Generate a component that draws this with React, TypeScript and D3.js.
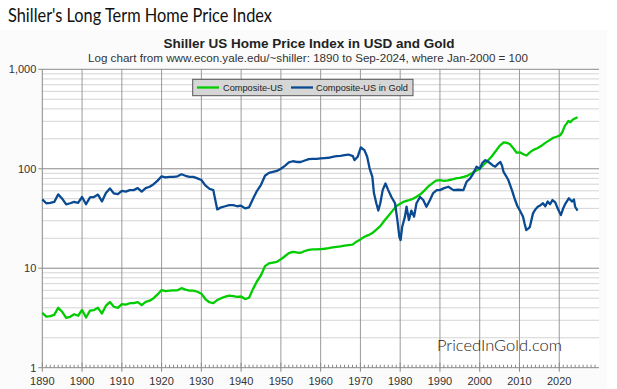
import React from "react";
import * as d3 from "d3";

const usYears = [1890,1891,1892,1893,1894,1895,1896,1897,1898,1899,1900,1901,1902,1903,1904,1905,1906,1907,1908,1909,1910,1911,1912,1913,1914,1915,1916,1917,1918,1919,1920,1921,1922,1923,1924,1925,1926,1927,1928,1929,1930,1931,1932,1933,1934,1935,1936,1937,1938,1939,1940,1941,1942,1943,1944,1945,1946,1947,1948,1949,1950,1951,1952,1953,1954,1955,1956,1957,1958,1959,1960,1961,1962,1963,1964,1965,1966,1967,1968,1969,1970,1971,1972,1973,1974,1975,1976,1977,1978,1979,1980,1981,1982,1983,1984,1985,1986,1987,1988,1989,1990,1991,1992,1993,1994,1995,1996,1997,1998,1999,2000,2001,2002,2003,2004,2005,2006,2006.6,2007.5,2008.5,2009.3,2010.2,2011,2011.8,2012.6,2013.5,2014.5,2015.5,2016.5,2017.5,2018.5,2019.5,2020.3,2020.8,2021.4,2021.9,2022.3,2022.8,2023.3,2023.8,2024.6];
const usValues = [3.57,3.26,3.3,3.4,4.0,3.65,3.17,3.25,3.45,3.33,3.8,3.2,3.75,3.8,4.0,3.5,4.2,4.57,4.1,4.0,4.35,4.3,4.45,4.45,4.57,4.25,4.6,4.72,5.0,5.45,6.03,5.9,5.95,6.0,6.0,6.3,6.1,5.95,5.95,5.8,5.55,4.9,4.55,4.45,4.79,5.0,5.17,5.3,5.25,5.15,5.2,4.9,5.05,6.2,7.4,8.5,10.5,11.2,11.4,11.6,12.3,13.2,14.2,14.6,14.4,14.3,14.9,15.3,15.5,15.5,15.6,15.7,15.9,16.2,16.4,16.6,16.9,17.1,17.3,18.5,19.5,20.7,21.5,22.6,24.5,26.5,30,33.5,37.5,42,44.5,46.8,48,49.5,52,55,60,66,71,76,77,75.5,76.5,78,80,81,83,85.5,90,95,100,110,120,133,150,170,184,183,178,160,145,146,140,136,146,155,161,170,182,193,205,211,218,235,270,286,303,293,310,318,330];

const goldYears = [1890,1891,1892,1893,1894,1895,1896,1897,1898,1899,1900,1901,1902,1903,1904,1905,1906,1907,1908,1909,1910,1911,1912,1913,1914,1915,1916,1917,1918,1919,1920,1921,1922,1923,1924,1925,1926,1927,1928,1929,1930,1931,1932,1933,1934,1935,1936,1937,1938,1939,1940,1941,1942,1943,1944,1945,1946,1947,1948,1949,1950,1951,1952,1953,1954,1955,1956,1957,1958,1959,1960,1961,1962,1963,1964,1965,1966,1967,1968.1,1968.5,1969.3,1970.1,1970.6,1971,1971.7,1972.3,1973,1973.4,1974,1974.5,1975,1975.6,1976.3,1977,1977.8,1978.7,1979.3,1979.8,1980.1,1980.5,1981.2,1981.6,1982.2,1982.8,1983.5,1984.1,1985,1985.8,1986.6,1987.5,1988.3,1989.2,1990,1990.9,1992.1,1993.4,1994.6,1995.9,1996.7,1997.6,1998.4,1999.2,2000,2000.7,2001.4,2002.1,2002.7,2003.3,2003.9,2004.6,2005.2,2005.6,2006,2006.6,2007.2,2008.1,2008.9,2009.5,2010.1,2010.9,2011.3,2011.7,2012.2,2012.6,2013.4,2014,2014.6,2015.3,2015.9,2016.5,2017.1,2017.7,2018.3,2019,2019.6,2020.4,2021,2021.6,2022.4,2023.2,2023.7,2024,2024.6];
const goldValues = [49.3,45,45.5,46.4,55.3,50,43.9,45,46.4,45.5,52,44,51.5,52,55,47,57,63.5,56.5,55.5,60,59,61,61,64,59,64,66,70,76,84,82,83,83,84,88,85,83,83,80,77,68,63,61,39,41,42,43,43,42,42.5,40,41,50,60,69,85,91,93,95,100,107,116,119,117,117,121,125,126,126,127,128,129,132,134,135,137,139,134,122,132,164,158,154,132,101,83,57,45,38,45,61,71,61,52,45,30.5,20.7,19.2,26,33,41.5,30.5,38,33,45,52,48.5,41.5,48.5,57,61,61,63.5,66,61,61.5,61,74,80,90,105,100,115,122,118,113,108,105,112,117,108,93,85,77,61,48.5,42,38,33,28,24.2,25,26,35.6,39,41.5,43,45,42,46.8,44,48.5,46,40,34.2,40,45,50.5,46.8,49,41.5,38];

const xTickYears = [1890,1900,1910,1920,1930,1940,1950,1960,1970,1980,1990,2000,2010,2020];
const yTickValues = [1, 10, 100, 1000];
const yTickLabels = ["1", "10", "100", "1,000"];
const seriesNames = ["Composite-US", "Composite-US in Gold"];
const seriesColors = ["#00cc00", "#0a4a92"];

export default function App() {
  const W = 617, H = 389;
  const left = 42.3, right = 599, top = 69.3, bottom = 367.7;
  const x = d3.scaleLinear().domain([1890, 2030]).range([left, right]);
  const y = d3.scaleLog().domain([1, 1000]).range([bottom, top]);

  const minorY: number[] = [];
  for (let d = 1; d < 1000; d *= 10) for (let k = 2; k <= 9; k++) minorY.push(d * k);
  const yearTicks = d3.range(1890, 2030);

  const line = d3.line<[number, number]>().x(d => x(d[0])).y(d => y(d[1])).curve(d3.curveLinear);
  const usData = usYears.map((t, i) => [t, usValues[i]] as [number, number]);
  const goldData = goldYears.map((t, i) => [t, goldValues[i]] as [number, number]);

  const font = "'Liberation Sans', Arial, sans-serif";

  return (
    <svg width={W} height={H} style={{ position: "absolute", left: 0, top: 0 }} xmlns="http://www.w3.org/2000/svg">
      <rect x={0} y={0} width={W} height={H} fill="#ffffff" />
      <rect x={0} y={30} width={607} height={H - 30} fill="#fbfbfb" />
      <text x={8} y={22} fontFamily="Lato, 'Open Sans', sans-serif" fontSize={18.5} fill="#111" textLength={264} lengthAdjust="spacingAndGlyphs">Shiller's Long Term Home Price Index</text>
      <text x={309} y={48} textAnchor="middle" fontFamily={font} fontWeight="bold" fontSize={13.5} fill="#222">Shiller US Home Price Index in USD and Gold</text>
      <text x={308} y={62} textAnchor="middle" fontFamily={font} fontSize={11} fill="#333" textLength={440} lengthAdjust="spacingAndGlyphs">Log chart from www.econ.yale.edu/~shiller: 1890 to Sep-2024, where Jan-2000 = 100</text>

      <rect x={left} y={top} width={right - left} height={bottom - top} fill="#ffffff" />
      {minorY.map(v => (
        <line key={"my" + v} x1={left} x2={right} y1={y(v)} y2={y(v)} stroke="#d4d4d4" strokeWidth={1} />
      ))}
      {xTickYears.slice(1).map(t => (
        <line key={"gx" + t} x1={x(t)} x2={x(t)} y1={top} y2={bottom} stroke="#9a9a9a" strokeWidth={1} />
      ))}
      {yTickValues.map(v => (
        <line key={"gy" + v} x1={left} x2={right} y1={y(v)} y2={y(v)} stroke="#8a8a8a" strokeWidth={1} />
      ))}
      <line x1={left} x2={left} y1={top} y2={bottom} stroke="#8a8a8a" strokeWidth={1} />
      {yTickValues.map((v, i) => (
        <g key={"yt" + v}>
          <line x1={left - 4} x2={left} y1={y(v)} y2={y(v)} stroke="#8a8a8a" />
          <text x={left - 6} y={y(v) + 4} textAnchor="end" fontFamily={font} fontSize={11} fill="#333">{yTickLabels[i]}</text>
        </g>
      ))}
      {yearTicks.map(t => (
        <line key={"xt" + t} x1={x(t)} x2={x(t)} y1={bottom} y2={bottom - (t % 10 === 0 ? 5 : 3)} stroke="#8a8a8a" strokeWidth={1} />
      ))}
      {xTickYears.map(t => (
        <g key={"xl" + t}>
          <line x1={x(t)} x2={x(t)} y1={bottom} y2={bottom + 4} stroke="#8a8a8a" />
          <text x={x(t)} y={bottom + 17} textAnchor="middle" fontFamily={font} fontSize={11} fill="#333">{t}</text>
        </g>
      ))}

      <path d={line(usData) || ""} fill="none" stroke={seriesColors[0]} strokeWidth={2.3} strokeLinejoin="round" />
      <path d={line(goldData) || ""} fill="none" stroke={seriesColors[1]} strokeWidth={2.3} strokeLinejoin="round" />

      <g>
        <rect x={192.7} y={79.3} width={220.3} height={16.4} fill="#d6d6d6" stroke="#555" strokeWidth={1} />
        <line x1={197} x2={219} y1={87.5} y2={87.5} stroke={seriesColors[0]} strokeWidth={2.3} />
        <text x={223} y={91.2} fontFamily={font} fontSize={9.8} fill="#222" textLength={60} lengthAdjust="spacingAndGlyphs">{seriesNames[0]}</text>
        <line x1={291} x2={313} y1={87.5} y2={87.5} stroke={seriesColors[1]} strokeWidth={2.3} />
        <text x={316} y={91.2} fontFamily={font} fontSize={9.8} fill="#222" textLength={92} lengthAdjust="spacingAndGlyphs">{seriesNames[1]}</text>
      </g>

      <text x={437} y={351} fontFamily="Lato, 'DejaVu Sans', sans-serif" fontWeight={300} fontSize={16} fill="#222" textLength={125} lengthAdjust="spacingAndGlyphs">PricedInGold.com</text>
    </svg>
  );
}
